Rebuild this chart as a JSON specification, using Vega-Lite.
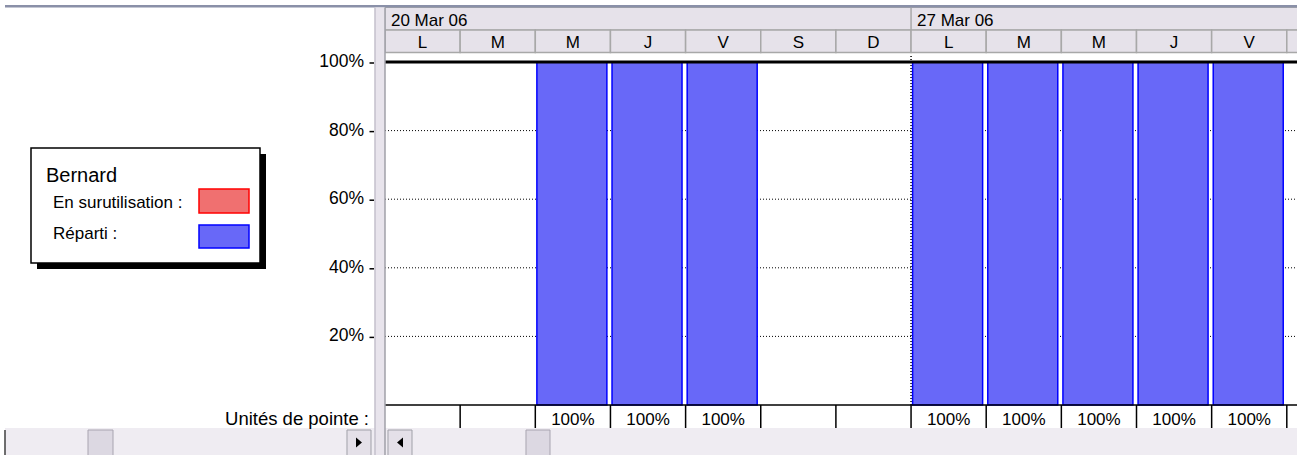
{
  "$schema": "https://vega.github.io/schema/vega-lite/v6.json",
  "width": 1297,
  "height": 455,
  "autosize": "none",
  "padding": 0,
  "background": "#ffffff",
  "config": {"view": {"stroke": null}, "text": {"font": "Liberation Sans", "color": "#000000"}, "scale": {"continuousPadding": 0}},
  "datasets": {
    "days": [
      {"day": 0, "label": "L", "value": 0},
      {"day": 1, "label": "M", "value": 0},
      {"day": 2, "label": "M", "value": 1},
      {"day": 3, "label": "J", "value": 1},
      {"day": 4, "label": "V", "value": 1},
      {"day": 5, "label": "S", "value": 0},
      {"day": 6, "label": "D", "value": 0},
      {"day": 7, "label": "L", "value": 1},
      {"day": 8, "label": "M", "value": 1},
      {"day": 9, "label": "M", "value": 1},
      {"day": 10, "label": "J", "value": 1},
      {"day": 11, "label": "V", "value": 1},
      {"day": 12, "label": "S", "value": 0}
    ],
    "weeks": [
      {"startDay": 0, "label": "20 Mar 06"},
      {"startDay": 7, "label": "27 Mar 06"}
    ],
    "ticks": [
      {"tick": 0.2}, {"tick": 0.4}, {"tick": 0.6}, {"tick": 0.8}, {"tick": 1.0}
    ]
  },
  "data": {"values": [{}]},
  "layer": [
    {
      "mark": {"type": "rect", "fill": "#E6E2EA", "stroke": "#A8A8A8", "strokeWidth": 1, "clip": true},
      "encoding": {
        "x": {"datum": -0.5, "type": "quantitative", "scale": {"domain": [-5.6231, 11.6357], "nice": false, "zero": false, "padding": 0}, "axis": null},
        "x2": {"datum": 11.7},
        "y": {"datum": 1.15889, "type": "quantitative", "scale": {"domain": [-0.14577, 1.18076], "nice": false, "zero": false, "padding": 0}, "axis": null},
        "y2": {"datum": 1.09329}
      }
    },
    {
      "mark": {"type": "rule", "stroke": "#A8A8A8", "strokeWidth": 1.5, "clip": true},
      "encoding": {
        "x": {"datum": 6.5, "type": "quantitative", "scale": {"domain": [-5.6231, 11.6357], "nice": false, "zero": false, "padding": 0}, "axis": null},
        "y": {"datum": 1.15889, "type": "quantitative", "scale": {"domain": [-0.14577, 1.18076], "nice": false, "zero": false, "padding": 0}, "axis": null},
        "y2": {"datum": 1.09329}
      }
    },
    {
      "data": {"name": "days"},
      "mark": {"type": "bar", "width": 75.15, "fill": "#E6E2EA", "stroke": "#A8A8A8", "strokeWidth": 1.5, "clip": true},
      "encoding": {
        "x": {"field": "day", "type": "quantitative", "scale": {"domain": [-5.6231, 11.6357], "nice": false, "zero": false, "padding": 0}, "axis": null},
        "y": {"datum": 1.09329, "type": "quantitative", "scale": {"domain": [-0.14577, 1.18076], "nice": false, "zero": false, "padding": 0}, "axis": null},
        "y2": {"datum": 1.0277}
      }
    },
    {
      "data": {"name": "days"},
      "transform": [{"filter": "datum.day < 12"}],
      "mark": {"type": "text", "align": "center", "baseline": "alphabetic", "fontSize": 17, "clip": true},
      "encoding": {
        "x": {"field": "day", "type": "quantitative", "scale": {"domain": [-5.6231, 11.6357], "nice": false, "zero": false, "padding": 0}, "axis": null},
        "y": {"datum": 1.04082, "type": "quantitative", "scale": {"domain": [-0.14577, 1.18076], "nice": false, "zero": false, "padding": 0}, "axis": null},
        "text": {"field": "label"}
      }
    },
    {
      "data": {"name": "weeks"},
      "mark": {"type": "text", "align": "left", "baseline": "alphabetic", "fontSize": 17, "xOffset": -31.6, "clip": true},
      "encoding": {
        "x": {"field": "startDay", "type": "quantitative", "scale": {"domain": [-5.6231, 11.6357], "nice": false, "zero": false, "padding": 0}, "axis": null},
        "y": {"datum": 1.10496, "type": "quantitative", "scale": {"domain": [-0.14577, 1.18076], "nice": false, "zero": false, "padding": 0}, "axis": null},
        "text": {"field": "label"}
      }
    },
    {
      "mark": {"type": "rect", "fill": "#8A90A8", "clip": true},
      "encoding": {
        "x": {"datum": -5.5566, "type": "quantitative", "scale": {"domain": [-5.6231, 11.6357], "nice": false, "zero": false, "padding": 0}, "axis": null},
        "x2": {"datum": 11.7},
        "y": {"datum": 1.16618, "type": "quantitative", "scale": {"domain": [-0.14577, 1.18076], "nice": false, "zero": false, "padding": 0}, "axis": null},
        "y2": {"datum": 1.15889}
      }
    },
    {
      "data": {"name": "ticks"},
      "transform": [{"filter": "datum.tick < 1"}],
      "mark": {"type": "rule", "stroke": "#000000", "strokeWidth": 1, "strokeDash": [1, 2], "clip": true},
      "encoding": {
        "x": {"datum": -0.5, "type": "quantitative", "scale": {"domain": [-5.6231, 11.6357], "nice": false, "zero": false, "padding": 0}, "axis": null},
        "x2": {"datum": 11.7},
        "y": {"field": "tick", "type": "quantitative", "scale": {"domain": [-0.14577, 1.18076], "nice": false, "zero": false, "padding": 0}, "axis": null}
      }
    },
    {
      "mark": {"type": "rule", "stroke": "#000000", "strokeWidth": 1.5, "strokeDash": [1, 2], "clip": true},
      "encoding": {
        "x": {"datum": 6.5, "type": "quantitative", "scale": {"domain": [-5.6231, 11.6357], "nice": false, "zero": false, "padding": 0}, "axis": null},
        "y": {"datum": 0, "type": "quantitative", "scale": {"domain": [-0.14577, 1.18076], "nice": false, "zero": false, "padding": 0}, "axis": null},
        "y2": {"datum": 1.02332}
      }
    },
    {
      "data": {"name": "days"},
      "transform": [{"filter": "datum.value > 0"}],
      "mark": {"type": "bar", "width": 70, "xOffset": -1, "fill": "#6868f8", "stroke": "#0000ff", "strokeWidth": 1.5, "clip": true},
      "encoding": {
        "x": {"field": "day", "type": "quantitative", "scale": {"domain": [-5.6231, 11.6357], "nice": false, "zero": false, "padding": 0}, "axis": null},
        "y": {"field": "value", "type": "quantitative", "stack": null, "scale": {"domain": [-0.14577, 1.18076], "nice": false, "zero": false, "padding": 0}, "axis": null},
        "y2": {"datum": 0}
      }
    },
    {
      "mark": {"type": "rule", "stroke": "#000000", "strokeWidth": 3, "clip": true},
      "encoding": {
        "x": {"datum": -0.5, "type": "quantitative", "scale": {"domain": [-5.6231, 11.6357], "nice": false, "zero": false, "padding": 0}, "axis": null},
        "x2": {"datum": 11.7},
        "y": {"datum": 1.0, "type": "quantitative", "scale": {"domain": [-0.14577, 1.18076], "nice": false, "zero": false, "padding": 0}, "axis": null}
      }
    },
    {
      "mark": {"type": "rule", "stroke": "#000000", "strokeWidth": 1.5, "clip": true},
      "encoding": {
        "x": {"datum": -0.5, "type": "quantitative", "scale": {"domain": [-5.6231, 11.6357], "nice": false, "zero": false, "padding": 0}, "axis": null},
        "x2": {"datum": 11.7},
        "y": {"datum": 0, "type": "quantitative", "scale": {"domain": [-0.14577, 1.18076], "nice": false, "zero": false, "padding": 0}, "axis": null}
      }
    },
    {
      "data": {"name": "days"},
      "transform": [{"filter": "datum.day > 0"}],
      "mark": {"type": "rule", "stroke": "#000000", "strokeWidth": 1.5, "xOffset": -37.575, "clip": true},
      "encoding": {
        "x": {"field": "day", "type": "quantitative", "scale": {"domain": [-5.6231, 11.6357], "nice": false, "zero": false, "padding": 0}, "axis": null},
        "y": {"datum": 0, "type": "quantitative", "scale": {"domain": [-0.14577, 1.18076], "nice": false, "zero": false, "padding": 0}, "axis": null},
        "y2": {"datum": -0.06706}
      }
    },
    {
      "data": {"name": "days"},
      "transform": [{"filter": "datum.value > 0"}],
      "mark": {"type": "text", "align": "center", "baseline": "alphabetic", "fontSize": 17, "clip": true},
      "encoding": {
        "x": {"field": "day", "type": "quantitative", "scale": {"domain": [-5.6231, 11.6357], "nice": false, "zero": false, "padding": 0}, "axis": null},
        "y": {"datum": -0.05831, "type": "quantitative", "scale": {"domain": [-0.14577, 1.18076], "nice": false, "zero": false, "padding": 0}, "axis": null},
        "text": {"field": "value", "type": "quantitative", "format": ".0%"}
      }
    },
    {
      "mark": {"type": "rect", "fill": "#EFECF2", "clip": true},
      "encoding": {
        "x": {"datum": -5.5566, "type": "quantitative", "scale": {"domain": [-5.6231, 11.6357], "nice": false, "zero": false, "padding": 0}, "axis": null},
        "x2": {"datum": 11.7},
        "y": {"datum": -0.06706, "type": "quantitative", "scale": {"domain": [-0.14577, 1.18076], "nice": false, "zero": false, "padding": 0}, "axis": null},
        "y2": {"datum": -0.15}
      }
    },
    {
      "mark": {"type": "rule", "stroke": "#404040", "strokeWidth": 1.5, "clip": true},
      "encoding": {
        "x": {"datum": -5.5566, "type": "quantitative", "scale": {"domain": [-5.6231, 11.6357], "nice": false, "zero": false, "padding": 0}, "axis": null},
        "y": {"datum": -0.0729, "type": "quantitative", "scale": {"domain": [-0.14577, 1.18076], "nice": false, "zero": false, "padding": 0}, "axis": null},
        "y2": {"datum": -0.15}
      }
    },
    {
      "mark": {"type": "rect", "fill": "#E8E4EC", "clip": true},
      "encoding": {
        "x": {"datum": -0.6331, "type": "quantitative", "scale": {"domain": [-5.6231, 11.6357], "nice": false, "zero": false, "padding": 0}, "axis": null},
        "x2": {"datum": -0.5},
        "y": {"datum": 1.15889, "type": "quantitative", "scale": {"domain": [-0.14577, 1.18076], "nice": false, "zero": false, "padding": 0}, "axis": null},
        "y2": {"datum": -0.15}
      }
    },
    {
      "mark": {"type": "rule", "stroke": "#C4C0CC", "strokeWidth": 1.5, "clip": true},
      "encoding": {
        "x": {"datum": -0.6331, "type": "quantitative", "scale": {"domain": [-5.6231, 11.6357], "nice": false, "zero": false, "padding": 0}, "axis": null},
        "y": {"datum": 1.15889, "type": "quantitative", "scale": {"domain": [-0.14577, 1.18076], "nice": false, "zero": false, "padding": 0}, "axis": null},
        "y2": {"datum": -0.15}
      }
    },
    {
      "mark": {"type": "rule", "stroke": "#A0A0A8", "strokeWidth": 1.5, "clip": true},
      "encoding": {
        "x": {"datum": -0.5, "type": "quantitative", "scale": {"domain": [-5.6231, 11.6357], "nice": false, "zero": false, "padding": 0}, "axis": null},
        "y": {"datum": 1.15889, "type": "quantitative", "scale": {"domain": [-0.14577, 1.18076], "nice": false, "zero": false, "padding": 0}, "axis": null},
        "y2": {"datum": -0.15}
      }
    },
    {
      "mark": {"type": "rect", "fill": "#E4E0E8", "stroke": "#A0A0A8", "strokeWidth": 1, "clip": true},
      "encoding": {
        "x": {"datum": -1.0057, "type": "quantitative", "scale": {"domain": [-5.6231, 11.6357], "nice": false, "zero": false, "padding": 0}, "axis": null},
        "x2": {"datum": -0.6863},
        "y": {"datum": -0.07289, "type": "quantitative", "scale": {"domain": [-0.14577, 1.18076], "nice": false, "zero": false, "padding": 0}, "axis": null},
        "y2": {"datum": -0.15}
      }
    },
    {
      "mark": {"type": "rect", "fill": "#E4E0E8", "stroke": "#A0A0A8", "strokeWidth": 1, "clip": true},
      "encoding": {
        "x": {"datum": -0.4601, "type": "quantitative", "scale": {"domain": [-5.6231, 11.6357], "nice": false, "zero": false, "padding": 0}, "axis": null},
        "x2": {"datum": -0.1407},
        "y": {"datum": -0.07289, "type": "quantitative", "scale": {"domain": [-0.14577, 1.18076], "nice": false, "zero": false, "padding": 0}, "axis": null},
        "y2": {"datum": -0.15}
      }
    },
    {
      "mark": {"type": "rect", "fill": "#DCD8E2", "stroke": "#A8A4B0", "strokeWidth": 1, "clip": true},
      "encoding": {
        "x": {"datum": -4.4521, "type": "quantitative", "scale": {"domain": [-5.6231, 11.6357], "nice": false, "zero": false, "padding": 0}, "axis": null},
        "x2": {"datum": -4.1194},
        "y": {"datum": -0.07289, "type": "quantitative", "scale": {"domain": [-0.14577, 1.18076], "nice": false, "zero": false, "padding": 0}, "axis": null},
        "y2": {"datum": -0.15}
      }
    },
    {
      "mark": {"type": "rect", "fill": "#DCD8E2", "stroke": "#A8A4B0", "strokeWidth": 1, "clip": true},
      "encoding": {
        "x": {"datum": 1.3762, "type": "quantitative", "scale": {"domain": [-5.6231, 11.6357], "nice": false, "zero": false, "padding": 0}, "axis": null},
        "x2": {"datum": 1.6956},
        "y": {"datum": -0.07289, "type": "quantitative", "scale": {"domain": [-0.14577, 1.18076], "nice": false, "zero": false, "padding": 0}, "axis": null},
        "y2": {"datum": -0.15}
      }
    },
    {
      "mark": {"type": "point", "shape": "M -0.6 -1 L 0.6 0 L -0.6 1 Z", "size": 100, "filled": true, "fill": "#000000", "opacity": 1, "clip": true},
      "encoding": {
        "x": {"datum": -0.846, "type": "quantitative", "scale": {"domain": [-5.6231, 11.6357], "nice": false, "zero": false, "padding": 0}, "axis": null},
        "y": {"datum": -0.10933, "type": "quantitative", "scale": {"domain": [-0.14577, 1.18076], "nice": false, "zero": false, "padding": 0}, "axis": null}
      }
    },
    {
      "mark": {"type": "point", "shape": "M 0.6 -1 L -0.6 0 L 0.6 1 Z", "size": 100, "filled": true, "fill": "#000000", "opacity": 1, "clip": true},
      "encoding": {
        "x": {"datum": -0.3004, "type": "quantitative", "scale": {"domain": [-5.6231, 11.6357], "nice": false, "zero": false, "padding": 0}, "axis": null},
        "y": {"datum": -0.10933, "type": "quantitative", "scale": {"domain": [-0.14577, 1.18076], "nice": false, "zero": false, "padding": 0}, "axis": null}
      }
    },
    {
      "data": {"name": "ticks"},
      "mark": {"type": "text", "align": "right", "baseline": "alphabetic", "fontSize": 17.5, "dy": 5, "clip": true},
      "encoding": {
        "x": {"datum": -0.7794, "type": "quantitative", "scale": {"domain": [-5.6231, 11.6357], "nice": false, "zero": false, "padding": 0}, "axis": null},
        "y": {"field": "tick", "type": "quantitative", "scale": {"domain": [-0.14577, 1.18076], "nice": false, "zero": false, "padding": 0}, "axis": null},
        "text": {"field": "tick", "type": "quantitative", "format": ".0%"}
      }
    },
    {
      "data": {"name": "ticks"},
      "mark": {"type": "rule", "stroke": "#000000", "strokeWidth": 1.5, "yOffset": 1, "clip": true},
      "encoding": {
        "x": {"datum": -0.7063, "type": "quantitative", "scale": {"domain": [-5.6231, 11.6357], "nice": false, "zero": false, "padding": 0}, "axis": null},
        "x2": {"datum": -0.6464},
        "y": {"field": "tick", "type": "quantitative", "scale": {"domain": [-0.14577, 1.18076], "nice": false, "zero": false, "padding": 0}, "axis": null}
      }
    },
    {
      "mark": {"type": "text", "align": "right", "baseline": "alphabetic", "fontSize": 18.5, "text": "Unités de pointe :", "clip": true},
      "encoding": {
        "x": {"datum": -0.7129, "type": "quantitative", "scale": {"domain": [-5.6231, 11.6357], "nice": false, "zero": false, "padding": 0}, "axis": null},
        "y": {"datum": -0.05831, "type": "quantitative", "scale": {"domain": [-0.14577, 1.18076], "nice": false, "zero": false, "padding": 0}, "axis": null}
      }
    },
    {
      "mark": {"type": "rect", "fill": "#000000", "clip": true},
      "encoding": {
        "x": {"datum": -5.1307, "type": "quantitative", "scale": {"domain": [-5.6231, 11.6357], "nice": false, "zero": false, "padding": 0}, "axis": null},
        "x2": {"datum": -2.0835},
        "y": {"datum": 0.73178, "type": "quantitative", "scale": {"domain": [-0.14577, 1.18076], "nice": false, "zero": false, "padding": 0}, "axis": null},
        "y2": {"datum": 0.3965}
      }
    },
    {
      "mark": {"type": "rect", "fill": "#ffffff", "stroke": "#000000", "strokeWidth": 1.5, "clip": true},
      "encoding": {
        "x": {"datum": -5.2106, "type": "quantitative", "scale": {"domain": [-5.6231, 11.6357], "nice": false, "zero": false, "padding": 0}, "axis": null},
        "x2": {"datum": -2.1633},
        "y": {"datum": 0.74927, "type": "quantitative", "scale": {"domain": [-0.14577, 1.18076], "nice": false, "zero": false, "padding": 0}, "axis": null},
        "y2": {"datum": 0.41399}
      }
    },
    {
      "mark": {"type": "text", "align": "left", "baseline": "alphabetic", "fontSize": 20, "text": "Bernard", "clip": true},
      "encoding": {
        "x": {"datum": -5.011, "type": "quantitative", "scale": {"domain": [-5.6231, 11.6357], "nice": false, "zero": false, "padding": 0}, "axis": null},
        "y": {"datum": 0.65015, "type": "quantitative", "scale": {"domain": [-0.14577, 1.18076], "nice": false, "zero": false, "padding": 0}, "axis": null}
      }
    },
    {
      "mark": {"type": "text", "align": "left", "baseline": "alphabetic", "fontSize": 17, "text": "En surutilisation :", "clip": true},
      "encoding": {
        "x": {"datum": -4.9178, "type": "quantitative", "scale": {"domain": [-5.6231, 11.6357], "nice": false, "zero": false, "padding": 0}, "axis": null},
        "y": {"datum": 0.57434, "type": "quantitative", "scale": {"domain": [-0.14577, 1.18076], "nice": false, "zero": false, "padding": 0}, "axis": null}
      }
    },
    {
      "mark": {"type": "text", "align": "left", "baseline": "alphabetic", "fontSize": 17, "text": "Réparti :", "clip": true},
      "encoding": {
        "x": {"datum": -4.9178, "type": "quantitative", "scale": {"domain": [-5.6231, 11.6357], "nice": false, "zero": false, "padding": 0}, "axis": null},
        "y": {"datum": 0.48397, "type": "quantitative", "scale": {"domain": [-0.14577, 1.18076], "nice": false, "zero": false, "padding": 0}, "axis": null}
      }
    },
    {
      "mark": {"type": "rect", "fill": "#F07070", "stroke": "#FF0000", "strokeWidth": 1.5, "clip": true},
      "encoding": {
        "x": {"datum": -2.9751, "type": "quantitative", "scale": {"domain": [-5.6231, 11.6357], "nice": false, "zero": false, "padding": 0}, "axis": null},
        "x2": {"datum": -2.3097},
        "y": {"datum": 0.62974, "type": "quantitative", "scale": {"domain": [-0.14577, 1.18076], "nice": false, "zero": false, "padding": 0}, "axis": null},
        "y2": {"datum": 0.55977}
      }
    },
    {
      "mark": {"type": "rect", "fill": "#6868f8", "stroke": "#0000FF", "strokeWidth": 1.5, "clip": true},
      "encoding": {
        "x": {"datum": -2.9751, "type": "quantitative", "scale": {"domain": [-5.6231, 11.6357], "nice": false, "zero": false, "padding": 0}, "axis": null},
        "x2": {"datum": -2.3097},
        "y": {"datum": 0.52478, "type": "quantitative", "scale": {"domain": [-0.14577, 1.18076], "nice": false, "zero": false, "padding": 0}, "axis": null},
        "y2": {"datum": 0.45773}
      }
    }
  ]
}
